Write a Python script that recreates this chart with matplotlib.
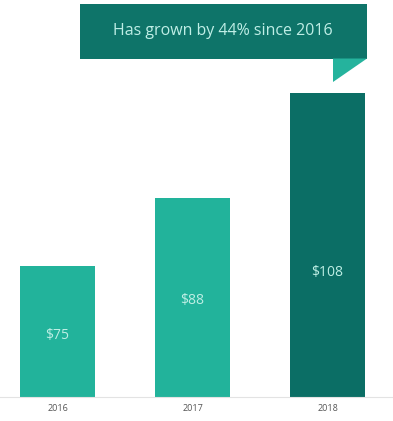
import matplotlib
matplotlib.use("Agg")
import matplotlib.pyplot as plt
from matplotlib.patches import Rectangle, Polygon

# revenue per year
years = ["2016", "2017", "2018"]
values = [75, 88, 108]
bar_colors = ["#22b39b", "#22b39b", "#0b6e65"]
label_pos = [61.8, 68.5, 73.7]  # where the value labels sit inside the bars
banner_text = "Has grown by 44% since 2016"

W, H = 393, 421
fig = plt.figure(figsize=(W / 100, H / 100), dpi=100)
fig.patch.set_facecolor("white")

def px(x, y):
    # pixel (from top-left) -> figure fraction
    return x / W, 1 - y / H

ax = fig.add_axes([0, 24 / H, 1, 1 - 24 / H])
xs = range(len(years))
ax.bar(xs, values, width=0.556, color=bar_colors, bottom=0, zorder=2)
ax.set_xlim(-0.426, 2.485)
ax.set_ylim(50, 50 + 397 / 5.24)

for x, v, p in zip(xs, values, label_pos):
    ax.text(x, p, f"\\${v}", ha="center", va="center", fontsize=10,
            color="#bdeee4", family="Open Sans", weight="medium")

for s in ["top", "right", "left"]:
    ax.spines[s].set_visible(False)
ax.spines["bottom"].set_color("#e3e3e3")
ax.spines["bottom"].set_linewidth(0.8)
ax.set_yticks([])
ax.set_xticks(list(xs))
ax.set_xticklabels(years, fontsize=6.5, color="#555555", family="Open Sans")
ax.tick_params(axis="x", length=0, pad=5)

# callout banner
x0, y0 = px(80, 59)
x1, y1 = px(367, 4)
fig.add_artist(Rectangle((x0, y0), x1 - x0, y1 - y0, transform=fig.transFigure,
                         facecolor="#0e7469", edgecolor="none"))
tail = [px(333, 58.5), px(367, 58.5), px(333, 82)]
fig.add_artist(Polygon(tail, closed=True, transform=fig.transFigure,
                       facecolor="#25b39d", edgecolor="none"))
tx, ty = px(223, 31)
fig.text(tx, ty, banner_text, ha="center", va="center", fontsize=11.5,
         color="#bfeee6", family="Open Sans", weight="medium")

fig.savefig("out.png", dpi=100, facecolor="white")
